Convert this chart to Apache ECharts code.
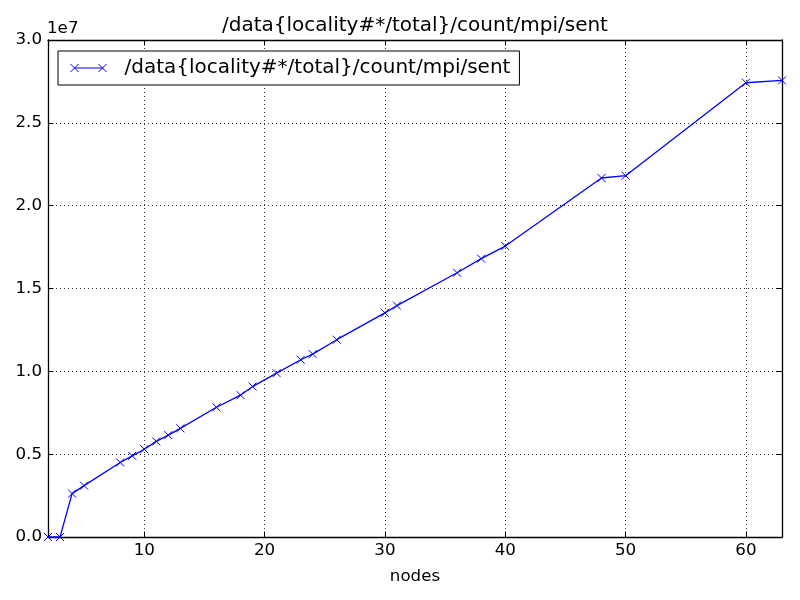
<!DOCTYPE html>
<html>
<head>
<meta charset="utf-8">
<script src="https://cdn.jsdelivr.net/npm/echarts@6/dist/echarts.min.js"></script>
<style>html,body{margin:0;padding:0;background:#fff;}#c{width:800px;height:600px;}</style>
</head>
<body>
<div id="c"></div>
<script>
const seriesName = '/data{locality#*/total}/count/mpi/sent';
const nodes = [2, 3, 4, 5, 8, 9, 10, 11, 12, 13, 16, 18, 19, 21, 23, 24, 26, 30, 31, 36, 38, 40, 48, 50, 60, 63];
const sent = [0, 0, 2.62e6, 3.10e6, 4.50e6, 4.90e6, 5.30e6, 5.77e6, 6.15e6, 6.56e6, 7.83e6, 8.56e6, 9.08e6, 9.89e6, 1.070e7, 1.104e7, 1.191e7, 1.353e7, 1.397e7, 1.595e7, 1.680e7, 1.756e7, 2.167e7, 2.181e7, 2.742e7, 2.756e7];
const xTicks = [10, 20, 30, 40, 50, 60];
const yTickStep = 5e6;

const font = 'DejaVu Sans';
const chart = echarts.init(document.getElementById('c'));
const points = nodes.map((n, i) => [n, sent[i]]);
const xMark = 'path://M0,0L10,10M10,0L0,10';
const gridLine = { show: true, lineStyle: { color: '#000', type: [1, 3], width: 0.8 } };
const frame = { show: true, onZero: false, lineStyle: { color: '#000', width: 1.3 } };
const tick = { show: true, inside: true, length: 5.5, lineStyle: { color: '#000', width: 1 } };

chart.setOption({
  animation: false,
  backgroundColor: '#fff',
  textStyle: { fontFamily: font },
  grid: { left: 48, right: 18, top: 40, bottom: 63, containLabel: false },
  graphic: [
    { type: 'text', x: 415, y: 16, style: { text: seriesName, textAlign: 'center', textVerticalAlign: 'top', fontSize: 20, fontFamily: font, fill: '#000' } },
    { type: 'text', x: 47, y: 20, style: { text: '1e7', textAlign: 'left', textVerticalAlign: 'top', fontSize: 16.7, fontFamily: font, fill: '#000' } }
  ],
  legend: {
    left: 58, top: 51,
    padding: [7, 9, 7, 10],
    backgroundColor: '#fff',
    borderColor: '#000', borderWidth: 1, borderRadius: 0,
    itemWidth: 36, itemHeight: 8, itemGap: 10,
    data: [{ name: seriesName, icon: 'path://M0,0L8,8M8,0L0,8M4,4L32,4M28,0L36,8M36,0L28,8' }],
    itemStyle: { color: 'none', borderColor: '#0000ff', borderWidth: 1 },
    lineStyle: { opacity: 0 },
    textStyle: { fontSize: 20, fontFamily: font, color: '#000', padding: [0, 0, 0, 13] }
  },
  xAxis: [
    {
      type: 'value', min: 2, max: 63, position: 'bottom',
      name: 'nodes', nameLocation: 'middle', nameGap: 31,
      nameTextStyle: { fontSize: 16.7, fontFamily: font, color: '#000' },
      axisLine: frame,
      axisTick: Object.assign({ customValues: xTicks }, tick),
      axisLabel: { show: true, customValues: xTicks, margin: 5, fontSize: 16.7, fontFamily: font, color: '#000' },
      splitLine: gridLine
    },
    {
      type: 'value', min: 2, max: 63, position: 'top',
      axisLine: frame,
      axisTick: Object.assign({ customValues: xTicks }, tick),
      axisLabel: { show: false, customValues: xTicks },
      splitLine: { show: false }
    }
  ],
  yAxis: [
    {
      type: 'value', min: 0, max: 3e7, interval: yTickStep, position: 'left',
      axisLine: frame,
      axisTick: tick,
      axisLabel: { show: true, margin: 6, fontSize: 16.7, fontFamily: font, color: '#000', formatter: v => (v / 1e7).toFixed(1) },
      splitLine: gridLine
    },
    {
      type: 'value', min: 0, max: 3e7, interval: yTickStep, position: 'right',
      axisLine: frame,
      axisTick: tick,
      axisLabel: { show: false },
      splitLine: { show: false }
    }
  ],
  series: [{
    name: seriesName,
    type: 'line',
    xAxisIndex: 0, yAxisIndex: 0,
    data: points,
    symbol: xMark,
    symbolSize: 8,
    showAllSymbol: true,
    clip: false,
    lineStyle: { color: '#0000ff', width: 1.3 },
    itemStyle: { color: 'none', borderColor: '#0000ff', borderWidth: 1 },
    emphasis: { disabled: true }
  }]
});
</script>
</body>
</html>
